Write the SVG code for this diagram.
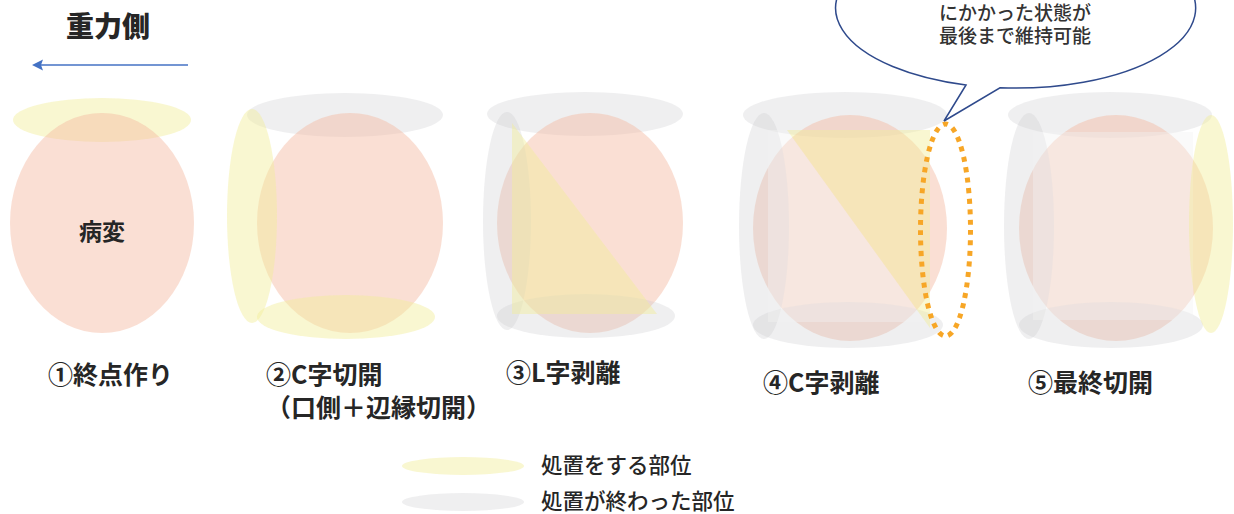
<svg xmlns="http://www.w3.org/2000/svg" width="1234" height="514" viewBox="0 0 1234 514">
  <defs>
    <style>
      .jp { font-family: "Noto Sans CJK JP", "Noto Sans", sans-serif; fill: #262626; }
      .title { font-size: 28px; font-weight: 900; }
      .label { font-size: 25px; font-weight: 700; }
      .legend { font-size: 21.5px; font-weight: 500; }
      .note { font-size: 19px; font-weight: 500; fill: #333; }
      .lesion { fill: #F4B9A0; fill-opacity: 0.45; }
      .treat { fill: #F2EE9A; fill-opacity: 0.45; }
      .done { fill: #C9C9CE; fill-opacity: 0.3; }
      .done-soft { fill: #F2F2F2; fill-opacity: 0.4; }
      .margin { fill: none; stroke: #F7A626; stroke-width: 5; stroke-dasharray: 5 5.5; }
      .bubble { fill: #fff; stroke: #2F4A8C; stroke-width: 1.5; stroke-linejoin: miter; }
      .arrow { stroke: #4472C4; stroke-width: 1.6; fill: none; }
    </style>
  </defs>

  <!-- gravity direction -->
  <g id="gravity">
    <text class="jp title" x="66" y="37">重力側</text>
  </g>
  <g id="connectors">
    <line class="arrow" x1="188" y1="65" x2="40" y2="65"/>
    <path d="M32,65 L43,59.5 L41,65 L43,70.5 Z" fill="#4472C4"/>
  </g>

  <!-- step 1: end point -->
  <g id="step1">
    <ellipse class="treat" cx="102" cy="120" rx="89" ry="22"/>
    <ellipse class="lesion" cx="102" cy="223" rx="92" ry="110"/>
    <text class="jp label" x="102" y="240" text-anchor="middle" style="font-size:23px">病変</text>
    <text class="jp label" x="48" y="384">①終点作り</text>
  </g>

  <!-- step 2: C-shaped incision -->
  <g id="step2">
    <ellipse class="done" cx="345" cy="115" rx="98" ry="22"/>
    <ellipse class="lesion" cx="350" cy="223" rx="93" ry="110"/>
    <ellipse class="treat" cx="252" cy="216" rx="25" ry="107"/>
    <ellipse class="treat" cx="346" cy="317" rx="89" ry="22"/>
    <text class="jp label" x="266" y="384">②C字切開</text>
    <text class="jp label" x="266" y="417">（口側＋辺縁切開）</text>
  </g>

  <!-- step 3: L-shaped dissection -->
  <g id="step3">
    <ellipse class="done" cx="585" cy="114" rx="98" ry="22"/>
    <ellipse class="lesion" cx="590" cy="223" rx="93" ry="110"/>
    <ellipse class="done" cx="507" cy="221" rx="24" ry="109"/>
    <ellipse class="done" cx="586" cy="316" rx="89" ry="22"/>
    <polygon class="treat" points="512,123 512,314 657,314"/>
    <text class="jp label" x="506" y="382">③L字剥離</text>
  </g>

  <!-- step 4: C-shaped dissection -->
  <g id="step4">
    <ellipse class="done" cx="845" cy="115" rx="102" ry="23"/>
    <ellipse class="lesion" cx="850" cy="228" rx="97" ry="113"/>
    <ellipse class="done" cx="764" cy="226" rx="25" ry="113"/>
    <ellipse class="done" cx="848" cy="325" rx="95" ry="23"/>
    <polygon class="done-soft" points="768,130 787,130 925.7,322 768,322"/>
    <polygon class="treat" points="787,130 930,130 930,328"/>
    <ellipse class="margin" cx="945.5" cy="230" rx="25" ry="106"/>
    <text class="jp label" x="763" y="392">④C字剥離</text>
  </g>

  <!-- step 5: final incision -->
  <g id="step5">
    <ellipse class="done" cx="1110" cy="115" rx="102" ry="23"/>
    <ellipse class="lesion" cx="1116" cy="228" rx="97" ry="113"/>
    <ellipse class="done" cx="1029" cy="226" rx="25" ry="113"/>
    <ellipse class="done" cx="1111" cy="325" rx="92" ry="23"/>
    <polygon class="done-soft" points="1033,132 1193,132 1193,320 1033,320"/>
    <ellipse class="treat" cx="1211" cy="224" rx="22" ry="109"/>
    <text class="jp label" x="1028" y="392">⑤最終切開</text>
  </g>

  <!-- callout on the preserved margin -->
  <g id="callout">
    <path class="bubble" d="M966,85 L944,121 L1000,87.8 A180,80 0 1 0 966,85 Z"/>
    <text class="jp note" x="1015" y="20" text-anchor="middle">にかかった状態が</text>
    <text class="jp note" x="1015" y="42.5" text-anchor="middle">最後まで維持可能</text>
  </g>

  <!-- legend -->
  <g id="legend">
    <ellipse class="treat" cx="463" cy="466" rx="61" ry="9"/>
    <text class="jp legend" x="541" y="473">処置をする部位</text>
    <ellipse class="done" cx="463" cy="502" rx="61" ry="9"/>
    <text class="jp legend" x="541" y="509">処置が終わった部位</text>
  </g>
</svg>
